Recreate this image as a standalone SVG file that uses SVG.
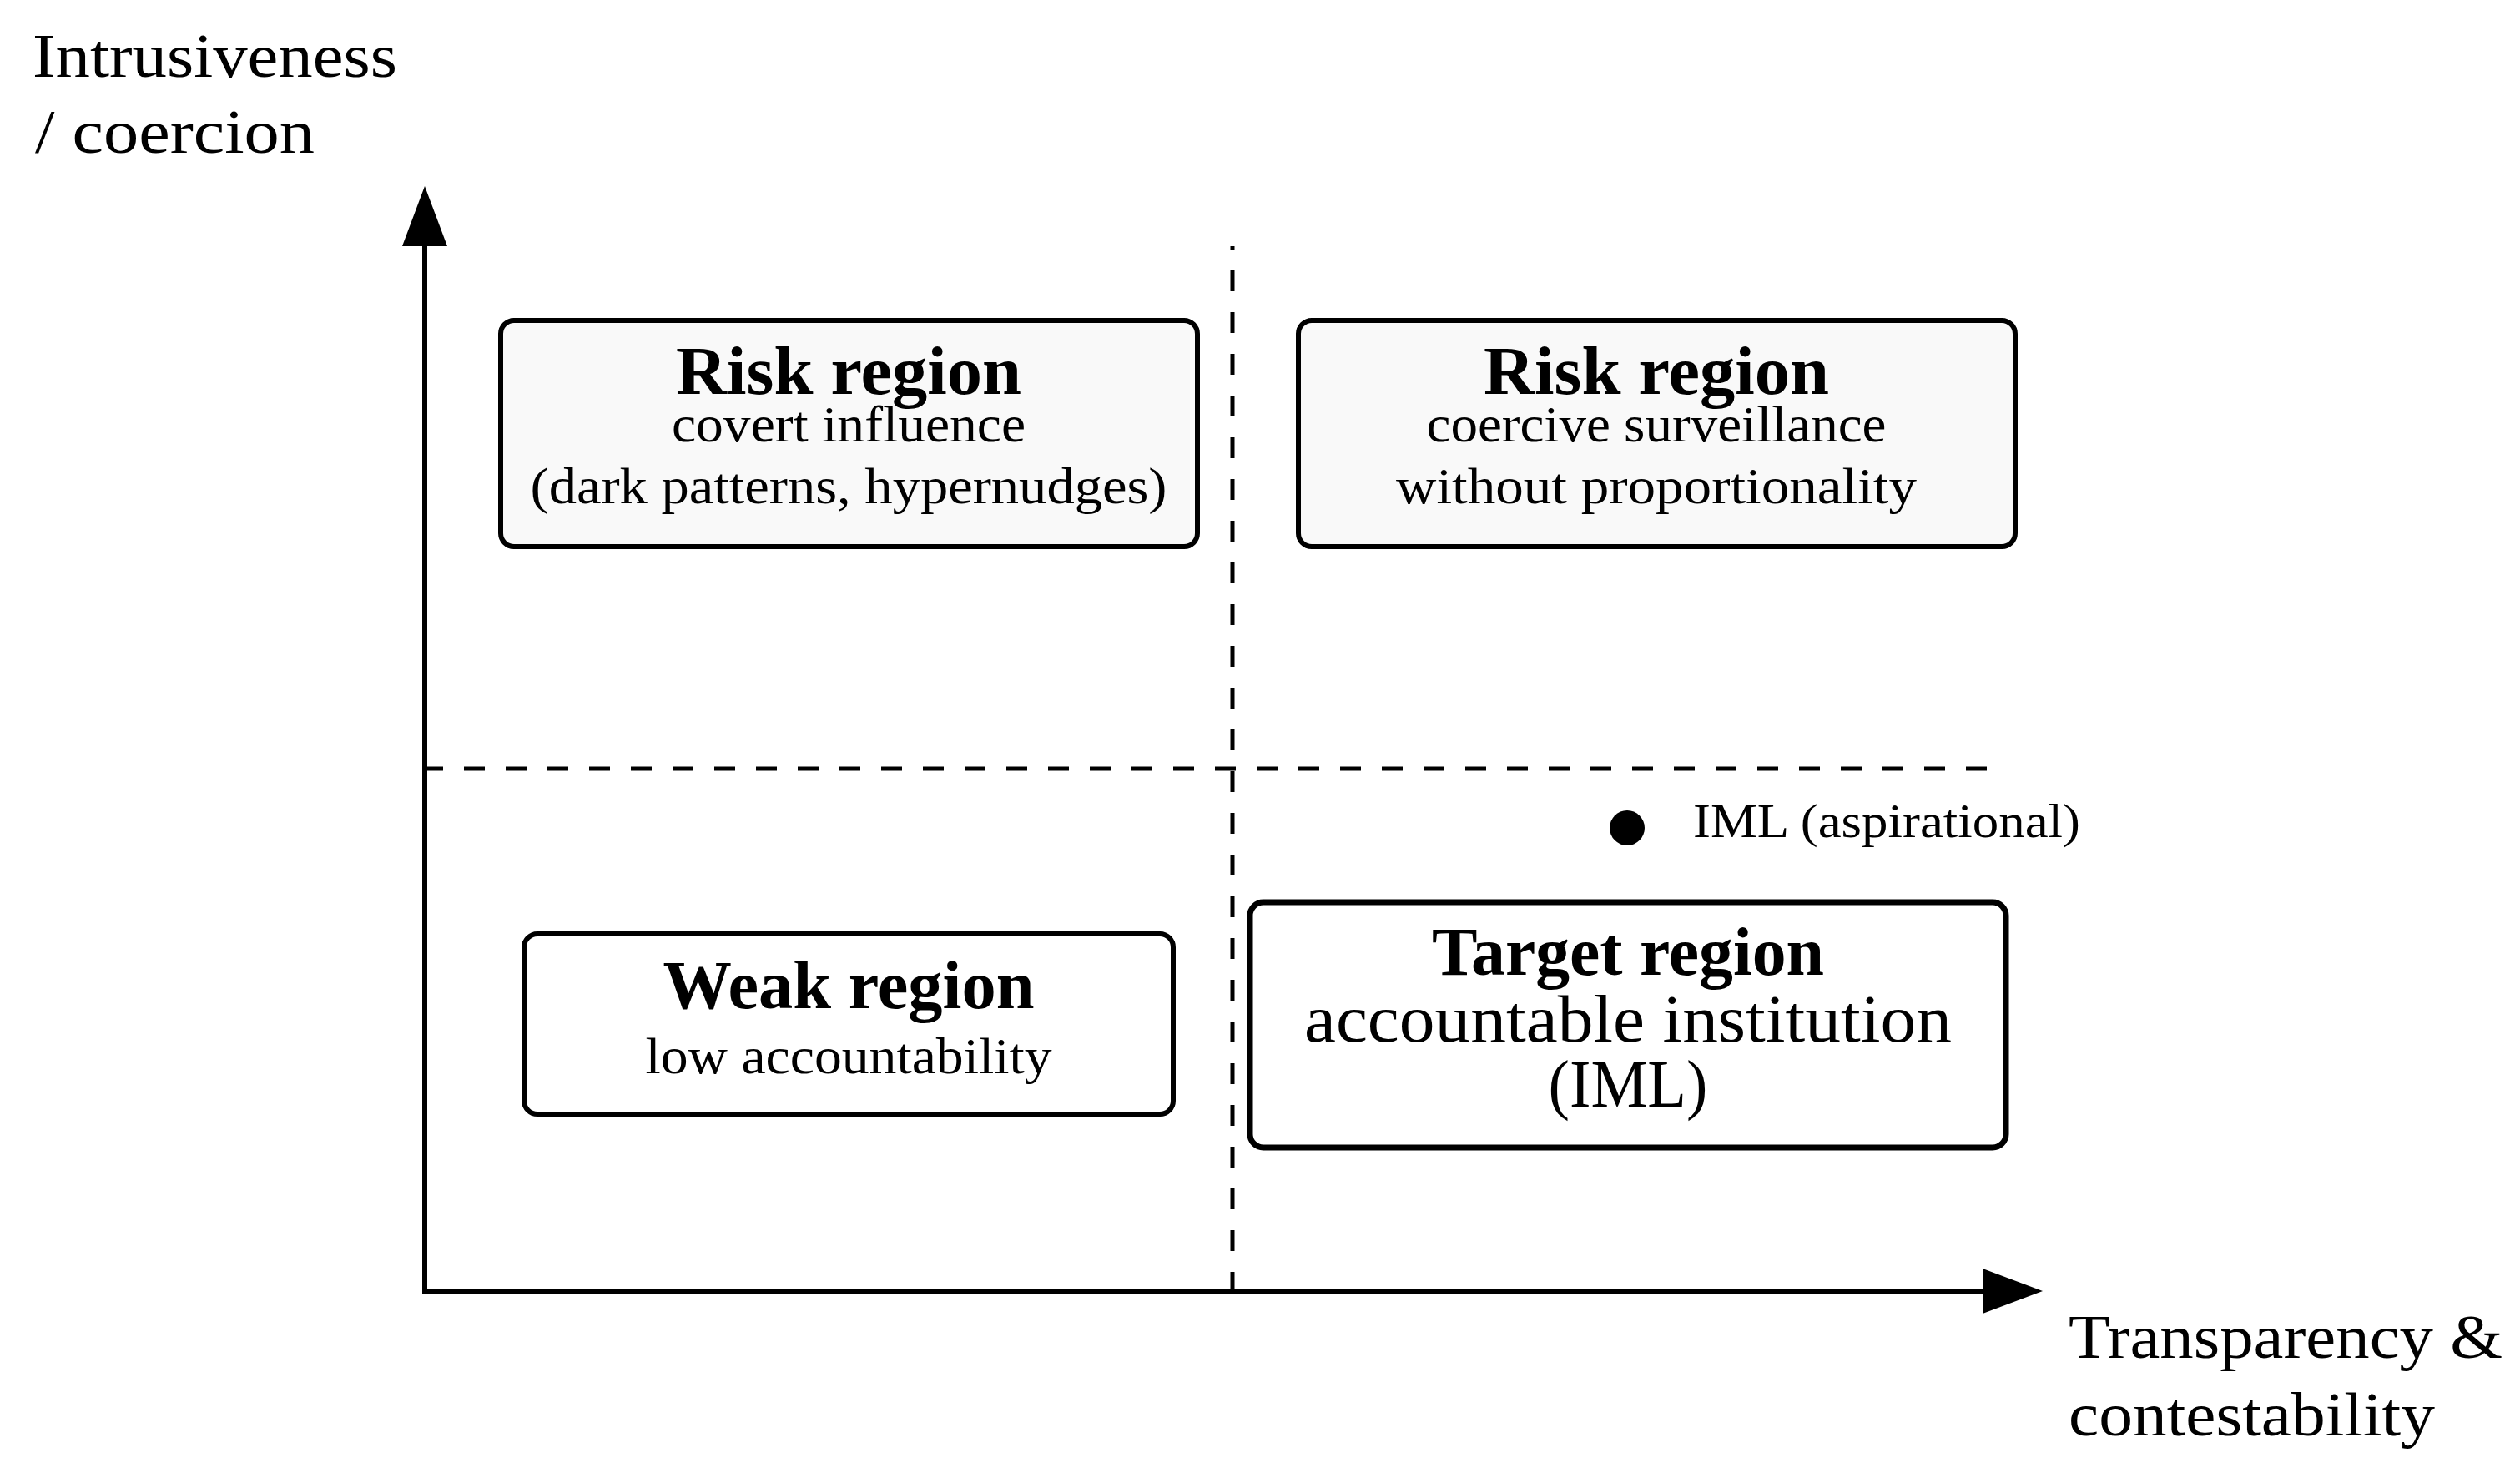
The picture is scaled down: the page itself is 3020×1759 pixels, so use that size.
<svg xmlns="http://www.w3.org/2000/svg" width="3020" height="1759" viewBox="0 0 3020 1759">
<style>
  text { font-family: "Liberation Serif", "Times New Roman", serif; fill: #000; }
  .title { font-weight: bold; font-size: 82px; text-anchor: middle; }
  .sub { font-size: 62px; text-anchor: middle; }
  .big { font-size: 80px; text-anchor: middle; }
  .axislabel { font-size: 74px; }
  .box { stroke: #000; stroke-width: 6; }
  .risk { fill: #f9f9f9; }
  .plain { fill: #ffffff; }
  .axis { stroke: #000; stroke-width: 6; fill: none; }
  .dash { stroke: #000; stroke-width: 5; stroke-dasharray: 25 25; fill: none; }
</style>
<defs>
  <marker id="arrow" markerUnits="userSpaceOnUse" markerWidth="72" markerHeight="54" viewBox="0 0 72 54" refX="0" refY="27" orient="auto">
    <path d="M0,0 L72,27 L0,54 Z" fill="#000"/>
  </marker>
</defs>
<rect width="3020" height="1759" fill="#ffffff"/>

<g id="connectors">
  <line class="dash" x1="1477" y1="295" x2="1477" y2="1547" stroke-dashoffset="21"/>
  <line class="dash" x1="506" y1="921" x2="2385" y2="921"/>
  <line class="axis" x1="509" y1="1547" x2="509" y2="295" marker-end="url(#arrow)"/>
  <line class="axis" x1="506" y1="1547" x2="2376" y2="1547" marker-end="url(#arrow)"/>
</g>

<g id="y-axis-label">
  <text class="axislabel" x="39" y="92" textLength="437" lengthAdjust="spacingAndGlyphs">Intrusiveness</text>
  <text class="axislabel" x="42" y="183" textLength="335" lengthAdjust="spacingAndGlyphs">/  coercion</text>
</g>
<g id="x-axis-label">
  <text class="axislabel" x="2479" y="1627" textLength="520" lengthAdjust="spacingAndGlyphs">Transparency &amp;</text>
  <text class="axislabel" x="2479" y="1720" textLength="439" lengthAdjust="spacingAndGlyphs">contestability</text>
</g>

<g id="risk-covert">
  <rect class="box risk" x="600" y="384" width="835" height="271" rx="16"/>
  <text class="title" x="1017" y="472" textLength="414" lengthAdjust="spacingAndGlyphs">Risk region</text>
  <text class="sub" x="1017" y="529" textLength="424" lengthAdjust="spacingAndGlyphs">covert influence</text>
  <text class="sub" x="1017" y="603" textLength="763" lengthAdjust="spacingAndGlyphs">(dark patterns, hypernudges)</text>
</g>

<g id="risk-coercive">
  <rect class="box risk" x="1556" y="384" width="859" height="271" rx="16"/>
  <text class="title" x="1985" y="472" textLength="414" lengthAdjust="spacingAndGlyphs">Risk region</text>
  <text class="sub" x="1985" y="529" textLength="551" lengthAdjust="spacingAndGlyphs">coercive surveillance</text>
  <text class="sub" x="1985" y="603" textLength="624" lengthAdjust="spacingAndGlyphs">without proportionality</text>
</g>

<g id="weak">
  <rect class="box plain" x="628" y="1119" width="778" height="216" rx="16"/>
  <text class="title" x="1017" y="1208" textLength="445" lengthAdjust="spacingAndGlyphs">Weak region</text>
  <text class="sub" x="1017" y="1286" textLength="487" lengthAdjust="spacingAndGlyphs">low accountability</text>
</g>

<g id="target">
  <rect class="box plain" x="1498" y="1081" width="906" height="294" rx="16" style="stroke-width:7"/>
  <text class="title" x="1951" y="1168" textLength="470" lengthAdjust="spacingAndGlyphs">Target region</text>
  <text class="big" x="1951" y="1248" textLength="776" lengthAdjust="spacingAndGlyphs">accountable institution</text>
  <text class="big" x="1951" y="1326" textLength="191" lengthAdjust="spacingAndGlyphs">(IML)</text>
</g>

<g id="iml-point">
  <circle cx="1950" cy="992" r="21" fill="#000"/>
  <text x="2029" y="1003" style="font-size:58px" textLength="464" lengthAdjust="spacingAndGlyphs">IML (aspirational)</text>
</g>
</svg>
